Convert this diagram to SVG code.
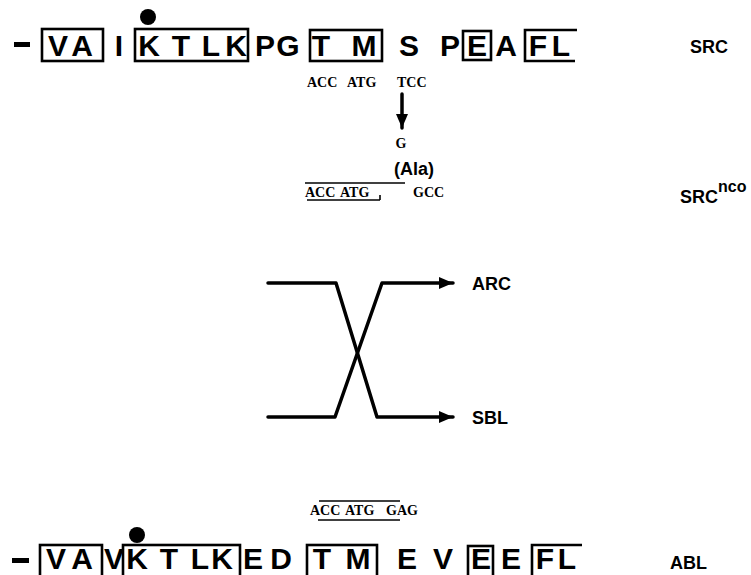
<svg xmlns="http://www.w3.org/2000/svg" width="751" height="575" viewBox="0 0 751 575">
<style>
.aa{font-family:"Liberation Sans",Arial,sans-serif;font-weight:bold;font-size:30px;text-anchor:middle;fill:#000}
.box{fill:none;stroke:#000;stroke-width:2.6;stroke-linejoin:miter}
.lbl{font-family:"Liberation Sans",Arial,sans-serif;font-weight:bold;font-size:18px;fill:#000}
.cod{font-family:"Liberation Serif","Times New Roman",serif;font-weight:bold;font-size:14px;fill:#000}
.ln{fill:none;stroke:#000;stroke-width:1.6}
.conn{fill:none;stroke:#000;stroke-width:3.5;stroke-linejoin:round;stroke-linecap:round}
</style>
<defs>
<marker id="ah" markerUnits="userSpaceOnUse" markerWidth="16" markerHeight="14" refX="14" refY="7" orient="auto">
<path d="M0,1 L14,7 L0,13 Z" fill="#000"/>
</marker>
</defs>
<rect x="0" y="0" width="751" height="575" fill="#fff"/>

<g id="src-seq">
<rect x="14" y="42" width="16" height="5" fill="#000"/>
<rect class="box" x="42" y="29" width="61" height="32"/>
<rect class="box" x="135" y="29" width="113" height="32"/>
<rect class="box" x="310" y="30" width="72" height="31"/>
<rect class="box" x="463" y="31" width="28" height="29"/>
<path class="box" d="M577,30 H525 V61 H575"/>
<circle cx="148" cy="17" r="8" fill="#000"/>
<text class="aa" y="56"><tspan x="58">V</tspan><tspan x="82">A</tspan><tspan x="119">I</tspan><tspan x="149">K</tspan><tspan x="181">T</tspan><tspan x="211">L</tspan><tspan x="236">K</tspan><tspan x="265">P</tspan><tspan x="288">G</tspan><tspan x="321">T</tspan><tspan x="364">M</tspan><tspan x="409">S</tspan><tspan x="450">P</tspan><tspan x="477">E</tspan><tspan x="506">A</tspan><tspan x="538">F</tspan><tspan x="561">L</tspan></text>
</g>
<g id="src-label"><text class="lbl" x="690" y="53">SRC</text></g>

<g id="src-codons">
<text class="cod" x="307" y="87">ACC</text>
<text class="cod" x="347" y="87">ATG</text>
<text class="cod" x="397" y="87">TCC</text>
</g>

<g id="mutation">
<text class="cod" x="401" y="148" text-anchor="middle">G</text>
<text class="lbl" x="414" y="175" text-anchor="middle" font-size="19">(Ala)</text>
</g>

<g id="srcnco-codons">
<text class="cod" x="305" y="197">ACC</text>
<text class="cod" x="340" y="197">ATG</text>
<text class="cod" x="413" y="197">GCC</text>
<line class="ln" x1="305" y1="183" x2="405" y2="183"/>
<line class="ln" x1="307" y1="200" x2="380" y2="200"/>
<line class="ln" x1="380" y1="200" x2="380" y2="195"/>
</g>
<g id="srcnco-label"><text class="lbl" x="680" y="203">SRC<tspan dy="-11" font-size="16">nco</tspan></text></g>

<g id="arc-label"><text class="lbl" x="472" y="290">ARC</text></g>
<g id="sbl-label"><text class="lbl" x="472" y="424">SBL</text></g>

<g id="abl-codons">
<text class="cod" x="310" y="515">ACC</text>
<text class="cod" x="345" y="515">ATG</text>
<text class="cod" x="386" y="515">GAG</text>
<line class="ln" x1="319" y1="501" x2="400" y2="501"/>
<line class="ln" x1="318" y1="520" x2="400" y2="520"/>
</g>

<g id="abl-seq">
<rect x="12" y="558" width="17" height="5" fill="#000"/>
<rect class="box" x="40" y="545" width="62" height="36"/>
<rect class="box" x="123" y="545" width="117" height="36"/>
<rect class="box" x="307" y="545" width="70" height="36"/>
<rect class="box" x="468" y="546" width="25" height="35"/>
<path class="box" d="M582,545 H532 V580"/>
<circle cx="137" cy="535" r="8" fill="#000"/>
<text class="aa" y="569" font-size="28"><tspan x="56">V</tspan><tspan x="82">A</tspan><tspan x="114">V</tspan><tspan x="137">K</tspan><tspan x="169">T</tspan><tspan x="200">L</tspan><tspan x="222">K</tspan><tspan x="253">E</tspan><tspan x="281">D</tspan><tspan x="322">T</tspan><tspan x="358">M</tspan><tspan x="407">E</tspan><tspan x="443">V</tspan><tspan x="481">E</tspan><tspan x="511">E</tspan><tspan x="545">F</tspan><tspan x="567">L</tspan></text>
</g>
<g id="abl-label"><text class="lbl" x="670" y="569">ABL</text></g>

<g id="connectors">
<line class="conn" x1="402" y1="94" x2="402" y2="128" stroke-width="4" marker-end="url(#ah)"/>
<path class="conn" d="M268,283 L336,283 L377,417 L453,417" marker-end="url(#ah)"/>
<path class="conn" d="M268,417 L335,417 L382,283 L453,283" marker-end="url(#ah)"/>
</g>
</svg>
